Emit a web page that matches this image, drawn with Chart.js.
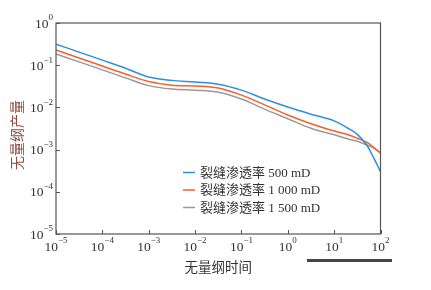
<!DOCTYPE html>
<html>
<head>
<meta charset="utf-8">
<script src="https://cdn.jsdelivr.net/npm/chart.js@4.4.0/dist/chart.umd.min.js"></script>
<style>
html,body{margin:0;padding:0;background:#fff;}
#wrap{position:relative;width:431px;height:290px;}
</style>
</head>
<body>
<div id="wrap"><canvas id="c" width="431" height="290"></canvas></div>
<script>
// ---- data ----
const times = [1e-5, 3.16e-5, 1e-4, 3.16e-4, 1e-3, 3.16e-3, 0.01, 0.0316, 0.1, 0.316, 1, 3.16, 10, 20, 31.6, 50, 70, 100];
const q500  = [0.316, 0.204, 0.132, 0.085, 0.0525, 0.0437, 0.0398, 0.0355, 0.0257, 0.0158, 0.0102, 0.0069, 0.0048, 0.0032, 0.0023, 0.0013, 0.00066, 0.0003];
const q1000 = [0.229, 0.148, 0.0955, 0.0617, 0.0410, 0.0335, 0.0322, 0.0288, 0.0195, 0.0115, 0.0066, 0.0041, 0.00275, 0.00224, 0.00186, 0.0015, 0.00115, 0.00083];
const q1500 = [0.184, 0.120, 0.0776, 0.050, 0.0328, 0.0272, 0.0256, 0.0229, 0.0158, 0.0091, 0.0054, 0.0032, 0.00224, 0.00178, 0.00158, 0.00129, 0.0011, 0.00083];
const seriesLabels = ['裂缝渗透率 500 mD', '裂缝渗透率 1 000 mD', '裂缝渗透率 1 500 mD'];
const xTickExponents = [-5, -4, -3, -2, -1, 0, 1, 2];
const yTickExponents = [-5, -4, -3, -2, -1, 0];
const xTitle = '无量纲时间';
const yTitle = '无量纲产量';

const colors = ['#2f8fd8', '#f2612c', '#9a9a9a'];
const toPts = arr => arr.map((v, i) => ({x: times[i], y: v}));
const seriesValues = [q500, q1000, q1500];

const numFont = '"Liberation Serif", "Times New Roman", serif';
const cjkFont = '"Liberation Serif", "Noto Sans CJK SC", serif';

function supText(ctx, base, exp, x, y, align) {
  ctx.save();
  ctx.textBaseline = 'middle';
  ctx.font = '13.5px ' + numFont;
  const wb = ctx.measureText(base).width;
  ctx.font = '9px ' + numFont;
  const we = ctx.measureText(exp).width;
  const total = wb + we;
  let x0 = align === 'right' ? x - total : x - total / 2;
  ctx.textAlign = 'left';
  ctx.fillStyle = '#333';
  ctx.font = '13.5px ' + numFont;
  ctx.fillText(base, x0, y);
  ctx.font = '9px ' + numFont;
  ctx.fillText(exp, x0 + wb, y - 6);
  ctx.restore();
}

const decor = {
  id: 'decor',
  afterDraw(chart) {
    const ctx = chart.ctx;
    const a = chart.chartArea;
    const xs = chart.scales.x, ys = chart.scales.y;
    ctx.save();
    ctx.strokeStyle = '#555';
    ctx.lineWidth = 1.2;
    ctx.strokeRect(a.left, a.top, a.right - a.left, a.bottom - a.top);
    ctx.lineWidth = 1;
    xTickExponents.forEach(e => {
      const px = Math.round(xs.getPixelForValue(Math.pow(10, e))) + 0.5;
      ctx.beginPath(); ctx.moveTo(px, a.bottom); ctx.lineTo(px, a.bottom - 4); ctx.stroke();
    });
    yTickExponents.forEach(e => {
      const py = Math.round(ys.getPixelForValue(Math.pow(10, e))) + 0.5;
      ctx.beginPath(); ctx.moveTo(a.left, py); ctx.lineTo(a.left + 4, py); ctx.stroke();
    });
    xTickExponents.forEach(e => {
      const px = xs.getPixelForValue(Math.pow(10, e));
      supText(ctx, '10', e < 0 ? '\u2212' + (-e) : String(e), px, a.bottom + 13, 'center');
    });
    yTickExponents.forEach(e => {
      const py = ys.getPixelForValue(Math.pow(10, e));
      supText(ctx, '10', e < 0 ? '\u2212' + (-e) : String(e), a.left - 3, py + 1, 'right');
    });
    ctx.fillStyle = '#333';
    ctx.font = '13.5px ' + cjkFont;
    ctx.textAlign = 'center';
    ctx.textBaseline = 'middle';
    ctx.fillText(xTitle, (a.left + a.right) / 2, 268);
    ctx.save();
    ctx.translate(18, 135);
    ctx.rotate(-Math.PI / 2);
    ctx.fillStyle = '#8b4c3f';
    ctx.font = '14px ' + cjkFont;
    ctx.fillText(yTitle, 0, 0);
    ctx.restore();
    chart.data.datasets.forEach((ds, i) => {
      const ly = 172.5 + i * 17.5;
      ctx.strokeStyle = ds.borderColor;
      ctx.lineWidth = 1.5;
      ctx.beginPath(); ctx.moveTo(183, ly); ctx.lineTo(195, ly); ctx.stroke();
      ctx.fillStyle = '#333';
      ctx.font = '13px ' + cjkFont;
      ctx.textAlign = 'left';
      ctx.textBaseline = 'middle';
      ctx.fillText(ds.label, 200, ly + 1);
    });
    ctx.fillStyle = '#4a4242';
    ctx.fillRect(307, 259, 85, 3);
    ctx.restore();
  }
};

new Chart(document.getElementById('c'), {
  type: 'line',
  data: {
    datasets: seriesValues.map((vals, i) => ({
      label: seriesLabels[i],
      data: toPts(vals),
      borderColor: colors[i],
      backgroundColor: colors[i],
      borderWidth: 1.5,
      pointRadius: 0,
      fill: false,
      tension: 0.35
    }))
  },
  options: {
    responsive: false,
    animation: false,
    devicePixelRatio: 1,
    layout: {padding: {left: 0, top: 23, right: 50.5, bottom: 0}},
    plugins: {legend: {display: false}, tooltip: {enabled: false}},
    scales: {
      x: {
        type: 'logarithmic', min: 1e-5, max: 100,
        grid: {display: false}, border: {display: false},
        ticks: {display: false},
        afterBuildTicks: s => { s.ticks = xTickExponents.map(e => ({value: Math.pow(10, e)})); },
        afterFit: s => { s.height = 56; }
      },
      y: {
        type: 'logarithmic', min: 1e-5, max: 1,
        grid: {display: false}, border: {display: false},
        ticks: {display: false},
        afterBuildTicks: s => { s.ticks = yTickExponents.map(e => ({value: Math.pow(10, e)})); },
        afterFit: s => { s.width = 56; }
      }
    }
  },
  plugins: [decor]
});
</script>
</body>
</html>
